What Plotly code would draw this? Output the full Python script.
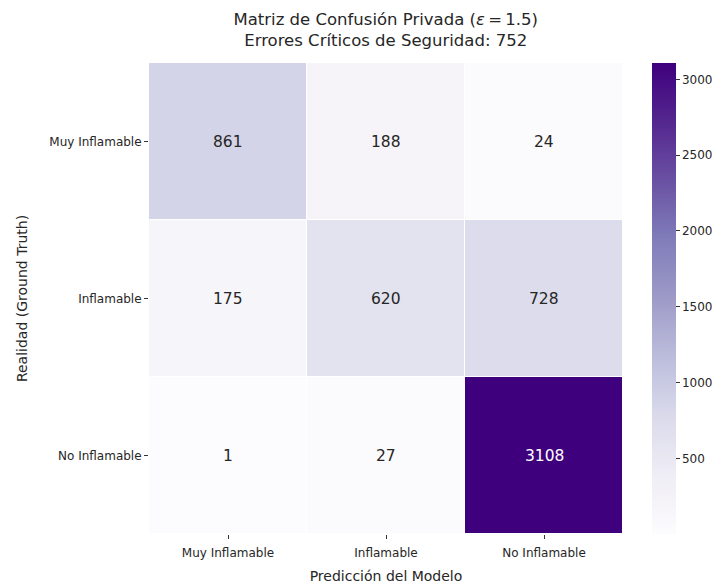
import plotly.graph_objects as go

pred_labels = ["Muy Inflamable", "Inflamable", "No Inflamable"]
true_labels = ["Muy Inflamable", "Inflamable", "No Inflamable"]
matrix = [
    [861, 188, 24],
    [175, 620, 728],
    [1, 27, 3108],
]
cbar_ticks = [500, 1000, 1500, 2000, 2500, 3000]
critical_errors = 752
epsilon = 1.5

FONT = "DejaVu Sans"
zmin = min(min(r) for r in matrix)
zmax = max(max(r) for r in matrix)

fig = go.Figure(go.Heatmap(
    z=matrix, x=pred_labels, y=true_labels,
    colorscale="Purples", zmin=zmin, zmax=zmax,
    xgap=1, ygap=1, hoverinfo="skip",
    colorbar=dict(
        x=1.061, xanchor="left", xref="paper",
        y=0.5, yanchor="middle", len=1.0, lenmode="fraction",
        thickness=24, thicknessmode="pixels",
        xpad=0, ypad=0,
        outlinewidth=0,
        tickvals=cbar_ticks, ticks="outside", ticklen=4, tickwidth=1,
        tickcolor="#333", tickfont=dict(family=FONT, size=12, color="#262626"),
    ),
))

annotations = []
for i, row in enumerate(matrix):
    for j, v in enumerate(row):
        frac = (v - zmin) / (zmax - zmin)
        annotations.append(dict(
            x=pred_labels[j], y=true_labels[i], text=str(v), showarrow=False,
            font=dict(family=FONT, size=15.5, color="white" if frac > 0.6 else "#262626"),
        ))

fig.update_layout(
    width=721, height=584,
    margin=dict(l=148.5, r=98, t=63, b=50, pad=0, autoexpand=False),
    paper_bgcolor="white", plot_bgcolor="white",
    font=dict(family=FONT, color="#262626"),
    title=dict(
        text=f"Matriz de Confusión Privada (<i>ε</i>\u2009=\u2009{epsilon})<br>Errores Críticos de Seguridad: {critical_errors}",
        x=(148.5 + 623) / 2 / 721, xanchor="center",
        y=1 - 25 / 584, yanchor="middle",
        font=dict(family=FONT, size=16.5, color="#262626"),
    ),
    xaxis=dict(
        title=dict(text="Predicción del Modelo", font=dict(family=FONT, size=14), standoff=16),
        ticks="outside", ticklen=4, tickcolor="#333", showgrid=False, zeroline=False,
        tickfont=dict(family=FONT, size=12), showline=False, ticklabelstandoff=4,
    ),
    yaxis=dict(
        title=dict(text="Realidad (Ground Truth)", font=dict(family=FONT, size=14), standoff=18),
        autorange="reversed",
        ticks="outside", ticklen=4, tickcolor="#333", showgrid=False, zeroline=False,
        tickfont=dict(family=FONT, size=12), showline=False,
    ),
    annotations=annotations,
)

fig.write_html("out.html")
